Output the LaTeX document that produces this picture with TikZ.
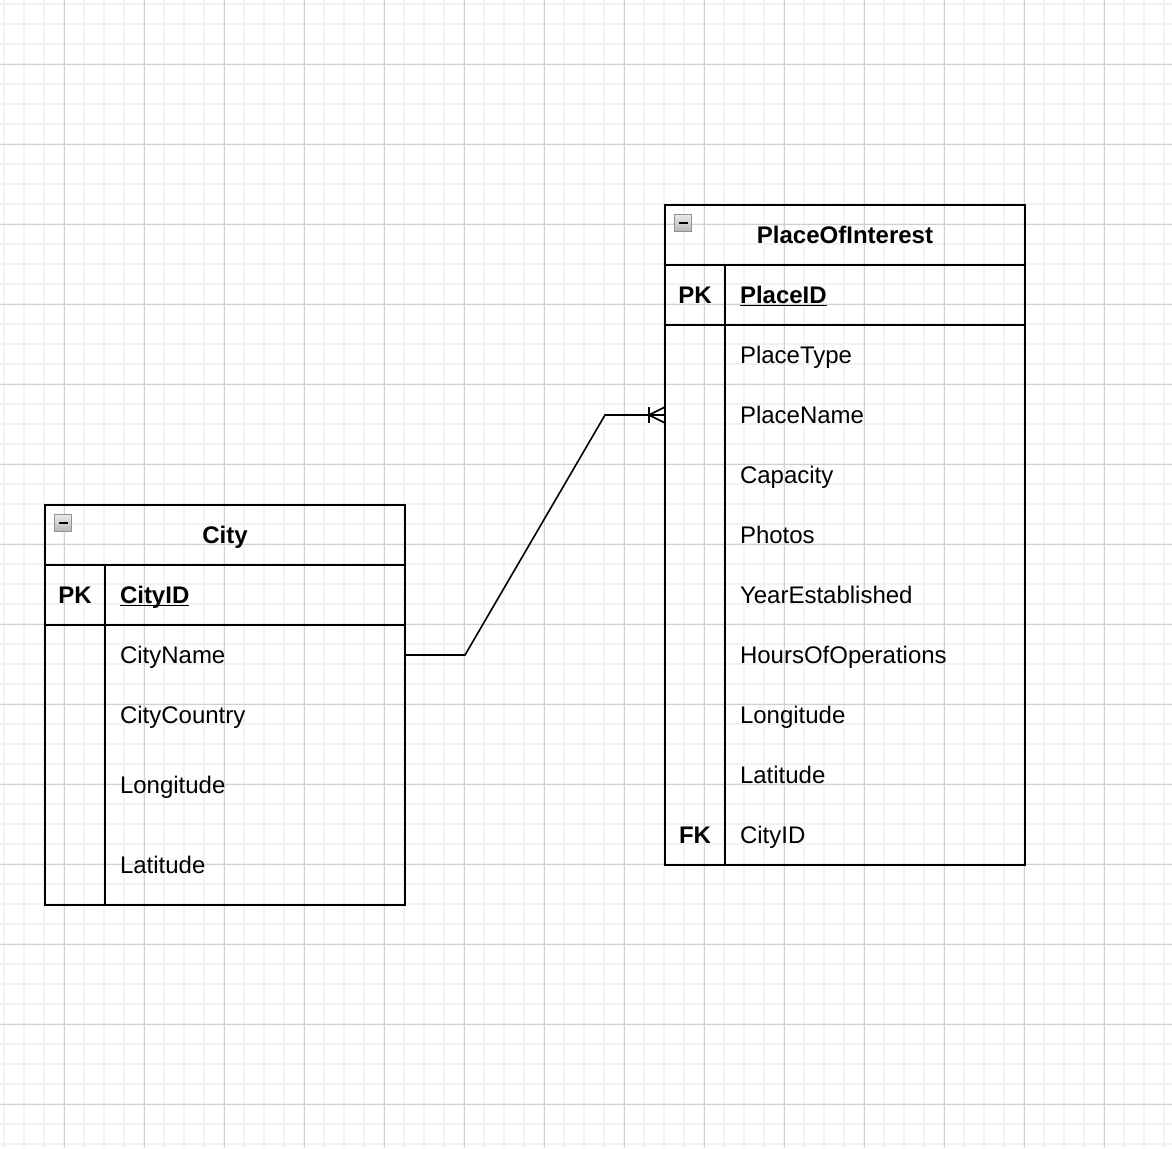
\documentclass[tikz,border=0pt]{standalone}
\usepackage{fontspec}
\setmainfont{Liberation Sans}
\usetikzlibrary{positioning}

\definecolor{iconborder}{HTML}{8E919E}
\definecolor{minorline}{HTML}{F2F2F2}
\definecolor{majorline}{HTML}{D0D0D0}

\begin{document}
\begin{tikzpicture}[
  x=0.5pt, y=-0.5pt,
  font=\fontsize{12}{14}\selectfont,
  every node/.style={text height=8.6pt, text depth=0pt, outer sep=0pt},
  minorgrid/.style={draw=minorline, line width=0.7pt},
  majorgrid/.style={draw=majorline, line width=0.5pt},
  header/.style={draw, line width=1pt, minimum width=180pt, minimum height=30pt, font=\fontsize{12}{14}\selectfont\bfseries},
  keyrow/.style={draw, line width=1pt, minimum width=180pt, minimum height=30pt},
  body/.style={draw, line width=1pt, minimum width=180pt},
  field/.style={anchor=west, inner sep=0pt},
  keylabel/.style={inner sep=0pt, font=\fontsize{12}{14}\selectfont\bfseries},
  foldicon/.style={draw=iconborder, line width=0.6pt, top color=white!92!black, bottom color=white!72!black, minimum size=8.5pt, inner sep=0pt},
  relation/.style={line width=0.8pt},
]

% Background and grid
\fill[white] (0,0) rectangle (1172,1148);
\useasboundingbox (0,0) rectangle (1172,1148);
\foreach \g in {4,24,...,1164} \draw[minorgrid] (\g,0) -- (\g,1148);
\foreach \g in {4,24,...,1144} \draw[minorgrid] (0,\g) -- (1172,\g);
\foreach \g in {64,144,...,1104} {
  \draw[majorgrid] (\g,0) -- (\g,1148);
  \draw[majorgrid] (0,\g) -- (1172,\g);
}

% City table
\node[header, anchor=north west] (city) at (45,505) {City};
\node[keyrow, below=0pt of city] (citypk) {};
\node[body, minimum height=140pt, below=0pt of citypk] (citybody) {};
\draw[line width=1pt] ([xshift=30pt]citypk.north west) -- ([xshift=30pt]citybody.south west);
\node[foldicon] (cityfold) at (63,523) {};
\draw[line width=1pt] ([xshift=2pt]cityfold.west) -- ([xshift=-2pt]cityfold.east);

\node[keylabel] (citypklabel) at (75,595) {PK};
\node[field, font=\fontsize{12}{14}\selectfont\bfseries] (cityid) at (120,595) {CityID};
\draw[line width=0.75pt] ([yshift=-1pt]cityid.south west) -- ([yshift=-1pt]cityid.south east);
\node[field] (cityname) at (120,655) {CityName};
\node[field] (citycountry) at (120,715) {CityCountry};
\node[field] (citylong) at (120,785) {Longitude};
\node[field] (citylat) at (120,865) {Latitude};

% PlaceOfInterest table
\node[header, anchor=north west] (place) at (665,205) {PlaceOfInterest};
\node[keyrow, below=0pt of place] (placepk) {};
\node[body, minimum height=270pt, below=0pt of placepk] (placebody) {};
\draw[line width=1pt] ([xshift=30pt]placepk.north west) -- ([xshift=30pt]placebody.south west);
\node[foldicon] (placefold) at (683,223) {};
\draw[line width=1pt] ([xshift=2pt]placefold.west) -- ([xshift=-2pt]placefold.east);

\node[keylabel] (placepklabel) at (695,295) {PK};
\node[field, font=\fontsize{12}{14}\selectfont\bfseries] (placeid) at (740,295) {PlaceID};
\draw[line width=0.75pt] ([yshift=-1pt]placeid.south west) -- ([yshift=-1pt]placeid.south east);
\foreach \name/\text [count=\i] in {placetype/PlaceType, placename/PlaceName, capacity/Capacity,
    photos/Photos, established/YearEstablished, hours/HoursOfOperations,
    placelong/Longitude, placelat/Latitude, placecity/CityID}
  \node[field] (\name) at (740,{295+60*\i}) {\text};
\node[keylabel] (placefklabel) at (695,835) {FK};

% Relation: one city, many places
\coordinate (manyend) at (placebody.west |- placename);
\draw[relation] (citybody.east |- cityname) -- ++(60,0) -- ([xshift=-30pt]manyend) -- (manyend);
\draw[relation] ([xshift=-8pt,yshift=4pt]manyend) -- ([xshift=-8pt,yshift=-4pt]manyend);
\draw[relation] ([yshift=4pt]manyend) -- ([xshift=-8pt]manyend) -- ([yshift=-4pt]manyend);

\end{tikzpicture}
\end{document}
